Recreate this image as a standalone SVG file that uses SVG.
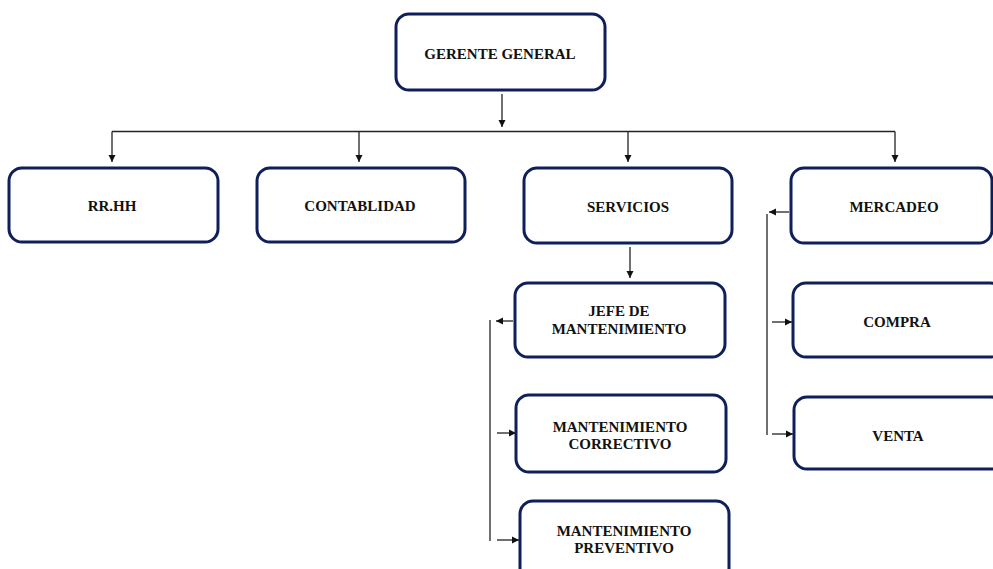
<svg xmlns="http://www.w3.org/2000/svg" width="993" height="569" viewBox="0 0 993 569">
<style>
.box{fill:#fff;stroke:#0e1f5a;stroke-width:3}
.lbl{font-family:"Liberation Serif","Times New Roman",serif;font-weight:bold;font-size:15px;fill:#111;text-anchor:middle}
.ln{fill:none;stroke:#222;stroke-width:1.3}
</style>
<defs>
<marker id="ah" markerWidth="8" markerHeight="8" refX="7" refY="4" orient="auto" markerUnits="userSpaceOnUse">
<path d="M0,0.5 L7,4 L0,7.5 Z" fill="#111"/>
</marker>
</defs>
<rect width="993" height="569" fill="#fff"/>
<g id="connectors">
<line class="ln" x1="502" y1="94" x2="502" y2="127" marker-end="url(#ah)"/>
<line class="ln" x1="112" y1="131.5" x2="895" y2="131.5"/>
<line class="ln" x1="112" y1="131.5" x2="112" y2="162" marker-end="url(#ah)"/>
<line class="ln" x1="359" y1="131.5" x2="359" y2="162" marker-end="url(#ah)"/>
<line class="ln" x1="628" y1="131.5" x2="628" y2="162" marker-end="url(#ah)"/>
<line class="ln" x1="895" y1="131.5" x2="895" y2="162" marker-end="url(#ah)"/>
<line class="ln" x1="630" y1="247" x2="630" y2="278" marker-end="url(#ah)"/>
<line class="ln" x1="513" y1="321" x2="496" y2="321" marker-end="url(#ah)"/>
<line class="ln" x1="490" y1="320" x2="490" y2="541"/>
<line class="ln" x1="497" y1="433" x2="516" y2="433" marker-end="url(#ah)"/>
<line class="ln" x1="497" y1="540" x2="519" y2="540" marker-end="url(#ah)"/>
<line class="ln" x1="789" y1="212" x2="769" y2="212" marker-end="url(#ah)"/>
<line class="ln" x1="767" y1="214" x2="767" y2="435"/>
<line class="ln" x1="772" y1="322" x2="792" y2="322" marker-end="url(#ah)"/>
<line class="ln" x1="772" y1="434" x2="793" y2="434" marker-end="url(#ah)"/>
</g>
<g id="gerente"><rect class="box" x="396" y="14" width="209" height="76" rx="13"/><text class="lbl" x="500" y="59">GERENTE GENERAL</text></g>
<g id="rrhh"><rect class="box" x="9" y="168" width="209" height="74" rx="13"/><text class="lbl" x="112" y="211">RR.HH</text></g>
<g id="contabilidad"><rect class="box" x="257" y="168" width="208" height="74" rx="13"/><text class="lbl" x="360" y="211">CONTABLIDAD</text></g>
<g id="servicios"><rect class="box" x="524" y="168" width="208" height="75" rx="13"/><text class="lbl" x="628" y="212">SERVICIOS</text></g>
<g id="mercadeo"><rect class="box" x="791" y="168" width="201" height="75" rx="13"/><text class="lbl" x="894" y="212">MERCADEO</text></g>
<g id="jefe"><rect class="box" x="515" y="283" width="210" height="74" rx="13"/><text class="lbl" x="619" y="316">JEFE DE</text><text class="lbl" x="619" y="334">MANTENIMIENTO</text></g>
<g id="correctivo"><rect class="box" x="516" y="395" width="210" height="77" rx="13"/><text class="lbl" x="620" y="432">MANTENIMIENTO</text><text class="lbl" x="620" y="449">CORRECTIVO</text></g>
<g id="preventivo"><rect class="box" x="520" y="501" width="209" height="80" rx="13"/><text class="lbl" x="624" y="536">MANTENIMIENTO</text><text class="lbl" x="624" y="553">PREVENTIVO</text></g>
<g id="compra"><rect class="box" x="793" y="283" width="210" height="74" rx="13"/><text class="lbl" x="897" y="327">COMPRA</text></g>
<g id="venta"><rect class="box" x="794" y="397" width="210" height="72" rx="13"/><text class="lbl" x="898" y="441">VENTA</text></g>
</svg>
